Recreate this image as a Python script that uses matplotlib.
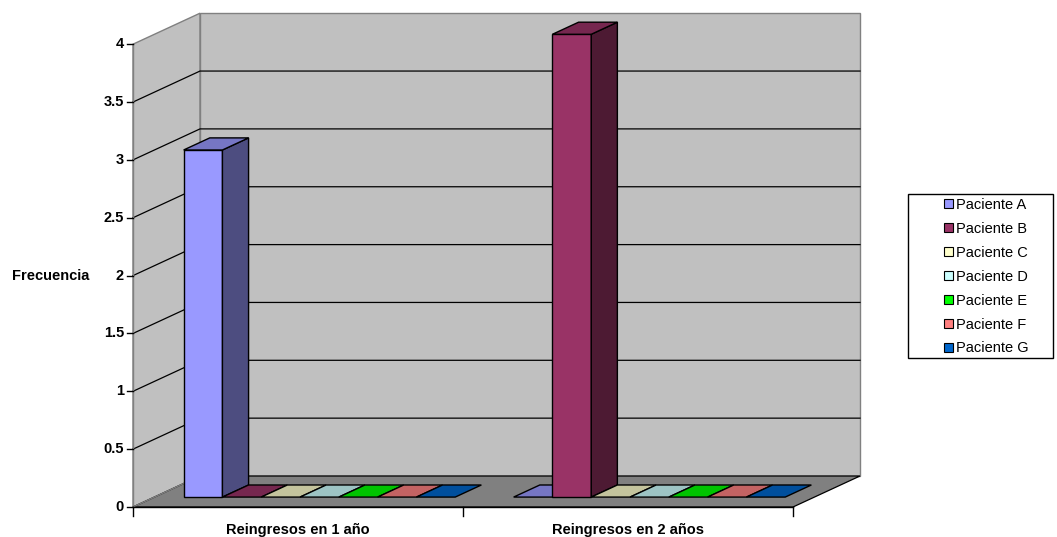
import matplotlib.pyplot as plt
from matplotlib.patches import Polygon, Patch, Rectangle

plt.rcParams['font.family'] = ['Liberation Sans', 'DejaVu Sans']

# data
categories = ['Reingresos en 1 año', 'Reingresos en 2 años']
series = ['Paciente A', 'Paciente B', 'Paciente C', 'Paciente D',
          'Paciente E', 'Paciente F', 'Paciente G']
values = [[3, 0, 0, 0, 0, 0, 0],
          [0, 4, 0, 0, 0, 0, 0]]
colors = ['#9999FF', '#993366', '#FFFFCC', '#CCFFFF', '#00FF00', '#FF8080', '#0066CC']
y_ticks = [0, 0.5, 1, 1.5, 2, 2.5, 3, 3.5, 4]
y_max = 4

# layout (pixel-ish geometry of the fake 3d box)
W, H = 1057, 537
x0_px, y0_px = 133, 507   # front origin
cat_px = 330              # px per category
val_px = 115.7            # px per unit
dx = 67 / cat_px          # depth shift, category units
dy = 31 / val_px          # depth shift, value units
f1, f2 = 0.32, 0.71       # bar depth front/back (fraction of depth)
gap = 0.177


def shade(c, k):
    r, g, b = plt.matplotlib.colors.to_rgb(c)
    return (r * k, g * k, b * k)


fig = plt.figure(figsize=(W / 100, H / 100), dpi=100)
ax = fig.add_axes([0, 0, 1, 1])
ax.set_xlim(-x0_px / cat_px, (W - x0_px) / cat_px)
ax.set_ylim(-(H - y0_px) / val_px, y0_px / val_px)
ax.axis('off')

n_cat = len(categories)
wall = '#C0C0C0'
edge_gray = '#808080'

# side wall
ax.add_patch(Polygon([(0, 0), (dx, dy), (dx, y_max + dy), (0, y_max)],
                     facecolor=wall, edgecolor=edge_gray, lw=1, zorder=1))
# back wall
ax.add_patch(Polygon([(dx, dy), (n_cat + dx, dy), (n_cat + dx, y_max + dy), (dx, y_max + dy)],
                     facecolor=wall, edgecolor=edge_gray, lw=1, zorder=1))
# gridlines
for t in y_ticks[1:-1]:
    ax.plot([0, dx, n_cat + dx], [t, t + dy, t + dy], color='black', lw=0.9, zorder=2)
# floor
ax.add_patch(Polygon([(0, 0), (n_cat, 0), (n_cat + dx, dy), (dx, dy)],
                     facecolor='#808080', edgecolor='black', lw=0.9, zorder=3))
ax.plot([0, dx], [0, dy], color=edge_gray, lw=1, zorder=3)

# axes lines and ticks
ax.plot([0, 0], [0, y_max], color=edge_gray, lw=1, zorder=4)
ax.plot([0, n_cat], [0, 0], color='black', lw=1, zorder=4)
tick_len_x = 6 / cat_px
for t in y_ticks:
    ax.plot([-tick_len_x, 0], [t, t], color='black', lw=1, zorder=4)
    ax.text(-9 / cat_px, t, f'{t:g}', ha='right', va='center',
            fontsize=10.5, fontweight='bold', zorder=5)
for i in range(n_cat + 1):
    ax.plot([i, i], [0, -9 / val_px], color='black', lw=1, zorder=4)
for i, c in enumerate(categories):
    ax.text(i + 0.5, -23 / val_px, c, ha='center', va='center',
            fontsize=10.5, fontweight='bold', zorder=5)
ax.text(-121 / cat_px, 2, 'Frecuencia', ha='left', va='center',
        fontsize=10.5, fontweight='bold', zorder=5)

# bars
bw = (1 - gap) / len(series)
ax_, ay_ = f1 * dx, f1 * dy
bx_, by_ = f2 * dx, f2 * dy
z = 10
for i in range(n_cat):
    for j, s in enumerate(series):
        v = values[i][j]
        c = colors[j]
        xl = i + gap / 2 + j * bw + ax_
        xr = xl + bw
        ddx, ddy = bx_ - ax_, by_ - ay_
        yb, yt = ay_, ay_ + v
        if v > 0:
            # front and side faces
            ax.add_patch(Polygon([(xl, yb), (xr, yb), (xr, yt), (xl, yt)],
                                 facecolor=c, edgecolor='black', lw=1, zorder=z))
            ax.add_patch(Polygon([(xr, yb), (xr + ddx, yb + ddy), (xr + ddx, yt + ddy), (xr, yt)],
                                 facecolor=shade(c, 0.5), edgecolor='black', lw=1, zorder=z))
        ax.add_patch(Polygon([(xl, yt), (xr, yt), (xr + ddx, yt + ddy), (xl + ddx, yt + ddy)],
                             facecolor=shade(c, 0.77), edgecolor='black', lw=1, zorder=z))
        z += 1

# legend box drawn separately so the entries sit like in Excel
fig.add_artist(Rectangle((908 / W, 1 - 358 / H), 145 / W, 164 / H, transform=fig.transFigure,
                         facecolor='white', edgecolor='black', lw=1))
handles = [Patch(facecolor=c, edgecolor='black', lw=0.8) for c in colors]
leg = fig.legend(handles, series, loc='upper left', bbox_to_anchor=(944 / W, 1 - 198 / H),
                 fontsize=10.5, frameon=False,
                 handlelength=0.6, handleheight=0.6, handletextpad=0.2,
                 labelspacing=0.68, borderpad=0, borderaxespad=0)

fig.savefig('out.png', dpi=100)
